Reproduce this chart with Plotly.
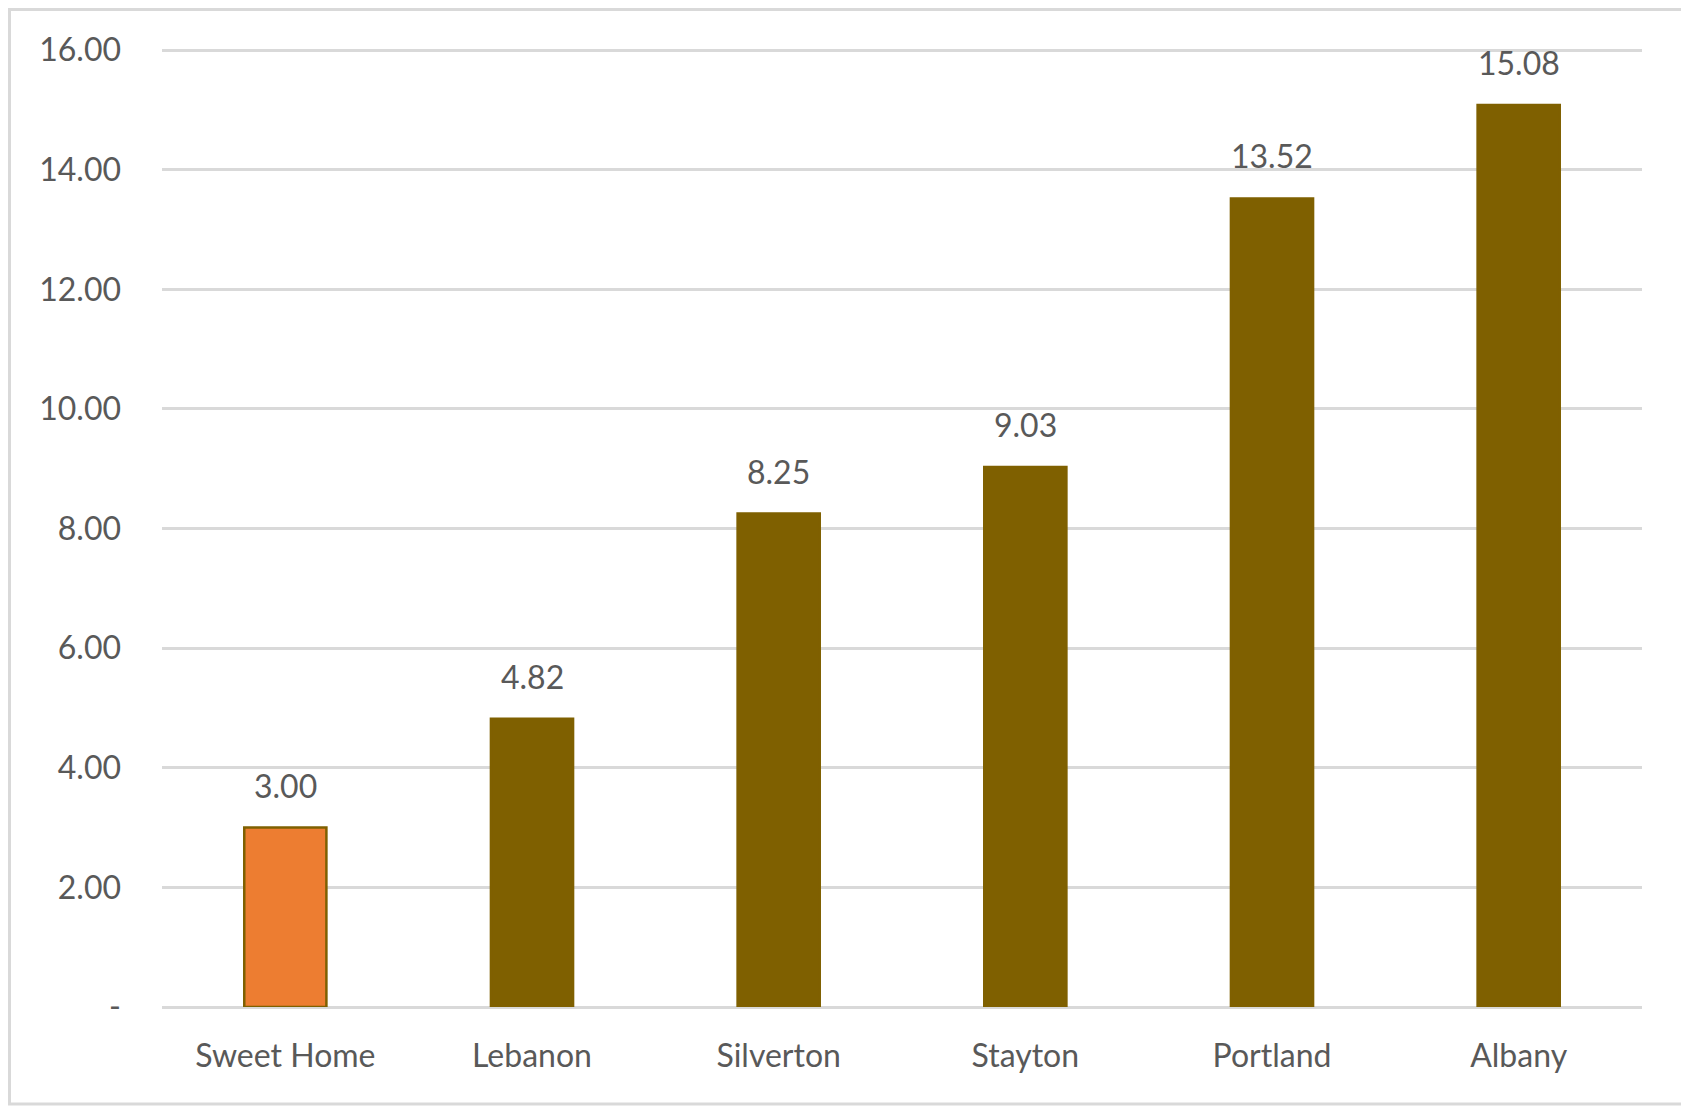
import plotly.graph_objects as go

categories = ["Sweet Home", "Lebanon", "Silverton", "Stayton", "Portland", "Albany"]
values = [3.00, 4.82, 8.25, 9.03, 13.52, 15.08]
bar_colors = ["#ED7D31", "#7F6000", "#7F6000", "#7F6000", "#7F6000", "#7F6000"]
y_tickvals = [0, 2, 4, 6, 8, 10, 12, 14, 16]
y_ticktext = ["-", "2.00", "4.00", "6.00", "8.00", "10.00", "12.00", "14.00", "16.00"]

FONT = "Lato"
TXT = "#595959"
FS = 32
OFF = 8  # default page body margin
W, H = 1689 - OFF, 1107 - OFF
ml, mr, mt, mb = 162 - OFF, 47, 48 - OFF, 100
pw, ph = W - ml - mr, H - mt - mb

fig = go.Figure()
fig.add_trace(go.Bar(
    x=categories, y=values,
    marker=dict(color=bar_colors, line=dict(color="#7F6000", width=2.5)),
    width=0.333, hoverinfo="x+y",
))

for c, v in zip(categories, values):
    fig.add_annotation(x=c, y=v, text=f"{v:.2f}", showarrow=False,
                       yanchor="bottom", yshift=21,
                       font=dict(family=FONT, size=FS, color=TXT))

# outer chart border (svg coords)
bl, br, bt, bb = 1.5, 1676, 1.5, 1096
fig.add_shape(type="rect", xref="paper", yref="paper",
              x0=(bl - ml) / pw, x1=(br - ml) / pw,
              y0=((H - mb) - bb) / ph, y1=((H - mb) - bt) / ph,
              line=dict(color="#D9D9D9", width=3), fillcolor="rgba(0,0,0,0)",
              layer="below")

fig.update_layout(
    width=W, height=H,
    margin=dict(l=ml, r=mr, t=mt, b=mb, pad=0),
    paper_bgcolor="white", plot_bgcolor="white",
    showlegend=False,
    font=dict(family=FONT, size=FS, color=TXT),
    bargap=0.667,
    xaxis=dict(showgrid=False, showline=False, zeroline=False,
               ticks="", ticklabelstandoff=27,
               tickfont=dict(family=FONT, size=FS, color=TXT)),
    yaxis=dict(range=[0, 16.035], tickvals=y_tickvals, ticktext=y_ticktext,
               showgrid=True, gridcolor="#D9D9D9", gridwidth=3,
               zeroline=True, zerolinecolor="#D9D9D9", zerolinewidth=3,
               showline=False, ticks="", ticklabelstandoff=40,
               tickfont=dict(family=FONT, size=FS, color=TXT)),
)

fig.write_html("out.html")
